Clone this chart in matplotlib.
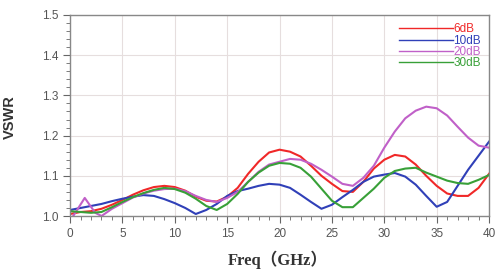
import matplotlib
matplotlib.use("Agg")
import matplotlib.pyplot as plt
from matplotlib.ticker import MultipleLocator

plt.rcParams["font.family"] = ["Liberation Sans", "DejaVu Sans"]

freq = list(range(0, 41))
purple_freq = [0.3, 1.4, 2.4] + list(range(3, 41))

vswr_6db = [1.005, 1.01, 1.012, 1.018, 1.028, 1.04, 1.053, 1.064, 1.072, 1.075,
            1.072, 1.063, 1.048, 1.038, 1.036, 1.048, 1.07, 1.105, 1.135, 1.158,
            1.165, 1.16, 1.148, 1.125, 1.1, 1.08, 1.062, 1.06, 1.085, 1.118,
            1.14, 1.152, 1.148, 1.128, 1.1, 1.075, 1.056, 1.05, 1.05, 1.07, 1.105]
vswr_10db = [1.015, 1.02, 1.025, 1.03, 1.037, 1.043, 1.048, 1.052, 1.05, 1.042,
             1.032, 1.02, 1.005, 1.015, 1.03, 1.05, 1.062, 1.068, 1.075, 1.08,
             1.078, 1.07, 1.053, 1.035, 1.018, 1.028, 1.047, 1.065, 1.085, 1.098,
             1.103, 1.107, 1.098, 1.078, 1.05, 1.023, 1.035, 1.075, 1.115, 1.15, 1.185]
vswr_20db = [1.0, 1.045, 1.008,
             1.0, 1.018, 1.032, 1.046, 1.056, 1.063, 1.067, 1.068, 1.062, 1.05,
             1.04, 1.035, 1.045, 1.06, 1.085, 1.11, 1.128, 1.135, 1.142, 1.14,
             1.13, 1.115, 1.098, 1.08, 1.075, 1.095, 1.125, 1.17, 1.21, 1.243,
             1.262, 1.272, 1.268, 1.25, 1.222, 1.195, 1.175, 1.17]
vswr_30db = [1.012, 1.01, 1.008, 1.01, 1.022, 1.035, 1.047, 1.057, 1.065, 1.07,
             1.067, 1.058, 1.043, 1.025, 1.015, 1.03, 1.055, 1.085, 1.108, 1.125,
             1.132, 1.13, 1.12, 1.098, 1.068, 1.038, 1.022, 1.022, 1.045, 1.068,
             1.095, 1.112, 1.118, 1.12, 1.108, 1.098, 1.088, 1.082, 1.08, 1.09, 1.102]

labels = ["6dB", "10dB", "20dB", "30dB"]
colors = ["#f02828", "#3040b8", "#c060c8", "#38a038"]
yticks = [1.0, 1.1, 1.2, 1.3, 1.4, 1.5]
ytick_labels = ["1.0", "1.1", "1.2", "1.3", "1.4", "1.5"]

fig = plt.figure(figsize=(4.97, 2.75), dpi=100)
ax = fig.add_axes([0.141, 0.2145, 0.843, 0.731])

series = [(freq, vswr_6db), (freq, vswr_10db), (purple_freq, vswr_20db), (freq, vswr_30db)]
for (x, y), lab, c in zip(series, labels, colors):
    ax.plot(x, y, color=c, lw=1.5, label=lab)

ax.set_xlim(0, 40)
ax.set_ylim(1.0, 1.5)
ax.xaxis.set_major_locator(MultipleLocator(5))
ax.xaxis.set_minor_locator(MultipleLocator(1))
ax.set_yticks(yticks)
ax.set_yticklabels(ytick_labels)
ax.yaxis.set_minor_locator(MultipleLocator(0.02))
ax.grid(True, which="major", color="#e6dede", lw=0.8)
for s in ax.spines.values():
    s.set_color("#888888")
    s.set_linewidth(1.0)
ax.tick_params(axis="both", which="major", length=5, color="#666666",
               labelcolor="#555555", labelsize=8.5, direction="out")
ax.tick_params(axis="both", which="minor", length=3, color="#666666", direction="out")

ax.set_xlabel("Freq（GHz）", family=["Liberation Serif", "Noto Sans CJK SC"],
              fontweight="bold", fontsize=12, color="#333333")
ax.xaxis.set_label_coords(0.496, -0.17)
ax.set_ylabel("VSWR", family=["Liberation Sans"], fontweight="bold",
              fontsize=10.5, color="#333333")
ax.yaxis.set_label_coords(-0.126, 0.49)

leg = ax.legend(loc="upper right", frameon=False, handlelength=4.6,
                handletextpad=0.0, labelspacing=-0.05,
                borderaxespad=0.3, prop={"family": "Liberation Sans", "size": 8.5})
for t, c in zip(leg.get_texts(), colors):
    t.set_color(c)
for l in leg.get_lines():
    l.set_linewidth(1.0)

fig.savefig("out.png", dpi=100, facecolor="white")
